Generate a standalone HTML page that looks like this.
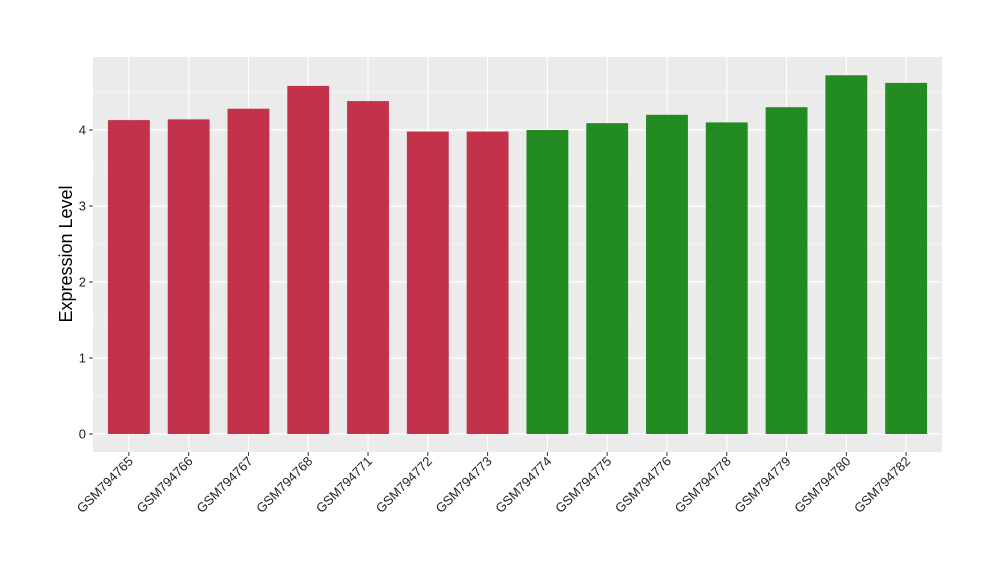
<!DOCTYPE html>
<html><head><meta charset="utf-8"><style>
html,body{margin:0;padding:0;background:#fff;}
svg{display:block;font-family:"Liberation Sans",Arial,sans-serif;}
</style></head><body>
<svg id="chart" width="1000" height="580" viewBox="0 0 1000 580" xmlns="http://www.w3.org/2000/svg">
<rect x="93" y="57" width="849" height="395" fill="#ebebeb"/>
<g id="grid"></g><g id="bars"></g><g id="axes"></g>
<text transform="translate(72,254) rotate(-90)" text-anchor="middle" font-size="18" fill="#000">Expression Level</text>
</svg>
<script>
const categories = ["GSM794765","GSM794766","GSM794767","GSM794768","GSM794771","GSM794772","GSM794773","GSM794774","GSM794775","GSM794776","GSM794778","GSM794779","GSM794780","GSM794782"];
const values = [4.13,4.14,4.28,4.58,4.38,3.98,3.98,4.0,4.09,4.2,4.1,4.3,4.72,4.62];
const groups = ["a","a","a","a","a","a","a","b","b","b","b","b","b","b"];
const yTicks = [0,1,2,3,4];
const yTickLabels = ["0","1","2","3","4"];
const colors = {a:"#c3314a", b:"#228b22"};

const NS="http://www.w3.org/2000/svg";
const pL=93,pR=942,pT=57,pB=452;
const y0=434, yPer=76;
function y(v){return y0-v*yPer;}
const unit=(pR-pL)/(categories.length-1+1.2);
function x(i){return pL+(0.6+i)*unit;}
const bw=0.7*unit;
function mk(tag,attrs,parent){const e=document.createElementNS(NS,tag);for(const k in attrs)e.setAttribute(k,attrs[k]);parent.appendChild(e);return e;}
const grid=document.getElementById('grid'),bars=document.getElementById('bars'),axes=document.getElementById('axes');
for(let t=-0.5;t<=5;t+=1){if(y(t)>pT&&y(t)<pB){const l=mk('line',{x1:pL,x2:pR,y1:y(t),y2:y(t),stroke:'#fff','stroke-width':0.6},grid);

}}
yTicks.forEach((t,i)=>{const l=mk('line',{x1:pL,x2:pR,y1:y(t),y2:y(t),stroke:'#fff','stroke-width':1.2},grid);


const tk=mk('line',{x1:pL-4,x2:pL,y1:y(t),y2:y(t),stroke:'#333','stroke-width':1},axes);


const tx=mk('text',{x:pL-7,y:y(t)+4.5,'text-anchor':'end','font-size':13,fill:'#222'},axes);
tx.textContent=yTickLabels[i];

});
categories.forEach((c,i)=>{const cx=x(i);
const g=mk('line',{x1:cx,x2:cx,y1:pT,y2:pB,stroke:'#fff','stroke-width':1.2},grid);


const r=mk('rect',{x:cx-bw/2,y:y(values[i]),width:bw,height:y(0)-y(values[i]),fill:colors[groups[i]]},bars);


const tk=mk('line',{x1:cx,x2:cx,y1:pB,y2:pB+4,stroke:'#333','stroke-width':1},axes);


const tx=mk('text',{transform:`translate(${cx+5},${pB+10}) rotate(-45)`,'text-anchor':'end','font-size':13,fill:'#222'},axes);
tx.textContent=c;

});
</script>
</body></html>
